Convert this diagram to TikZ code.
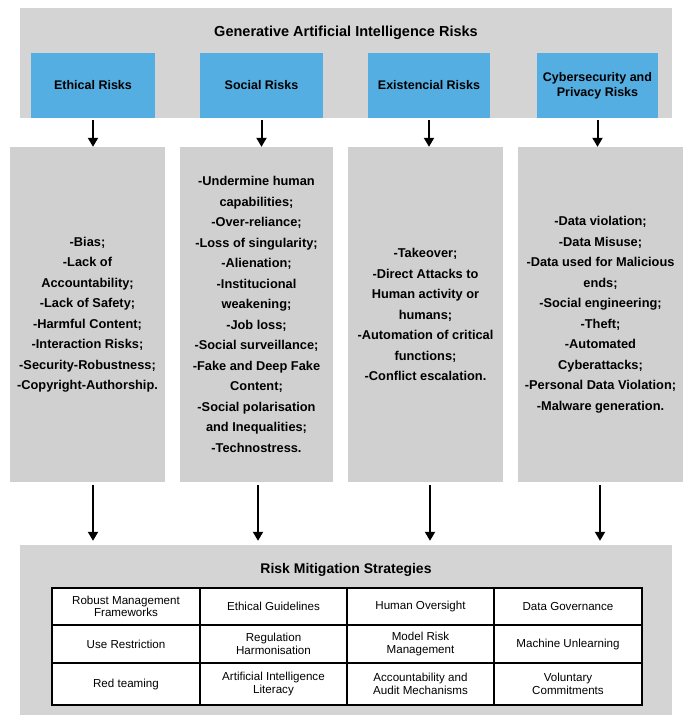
\documentclass[tikz,border=0pt]{standalone}
\usepackage{fontspec}
\setmainfont{Liberation Sans}
\usetikzlibrary{arrows.meta}
\definecolor{bandgray}{RGB}{212,212,212}
\definecolor{boxgray}{RGB}{208,208,208}
\definecolor{riskblue}{RGB}{84,174,226}
\begin{document}
\begin{tikzpicture}[x=1pt,y=-1pt,
  band/.style={fill=bandgray,draw=none},
  cat/.style={fill=riskblue,draw=none,font=\bfseries\fontsize{12.5}{15}\selectfont,align=center,inner sep=0pt},
  col/.style={fill=boxgray,draw=none,font=\bfseries\fontsize{12.8}{20.5}\selectfont,align=center,inner sep=0pt},
  cell/.style={draw=black,line width=1.3pt,fill=white,font=\fontsize{11.6}{12.5}\selectfont,align=center,inner sep=0pt},
  arr/.style={-{Triangle[length=9pt,width=10pt]},line width=2pt}]
\useasboundingbox[fill=white] (0,0) rectangle (685,717);
% top band
\fill[bandgray] (20,8) rectangle (672,118);
\node[font=\bfseries\fontsize{14.5}{17}\selectfont] (title) at (346,33) {Generative Artificial Intelligence Risks};
\node[cat,minimum width=124pt,minimum height=65pt] (c1) at (93,85.5) {Ethical Risks};
\node[cat,minimum width=123pt,minimum height=65pt] (c2) at (261.5,85.5) {Social Risks};
\node[cat,minimum width=122pt,minimum height=65pt] (c3) at (429,85.5) {Existencial Risks};
\node[cat,minimum width=121pt,minimum height=65pt] (c4) at (597.5,85.5) {Cybersecurity and\\Privacy Risks};
% columns
\node[col,minimum width=155pt,minimum height=335pt] (b1) at (87.5,314.5) {-Bias;\\-Lack of\\Accountability;\\-Lack of Safety;\\-Harmful Content;\\-Interaction Risks;\\-Security-Robustness;\\-Copyright-Authorship.};
\node[col,minimum width=153pt,minimum height=335pt] (b2) at (256.5,314.5) {-Undermine human\\capabilities;\\-Over-reliance;\\-Loss of singularity;\\-Alienation;\\-Institucional\\weakening;\\-Job loss;\\-Social surveillance;\\-Fake and Deep Fake\\Content;\\-Social polarisation\\and Inequalities;\\-Technostress.};
\node[col,minimum width=155pt,minimum height=335pt] (b3) at (425.5,314.5) {-Takeover;\\-Direct Attacks to\\Human activity or\\humans;\\-Automation of critical\\functions;\\-Conflict escalation.};
\node[col,minimum width=165pt,minimum height=335pt] (b4) at (600.5,314.5) {-Data violation;\\-Data Misuse;\\-Data used for Malicious\\ends;\\-Social engineering;\\-Theft;\\-Automated\\Cyberattacks;\\-Personal Data Violation;\\-Malware generation.};
% bottom band
\node[band,minimum width=652pt,minimum height=170pt,inner sep=0pt] (bot) at (346,630) {};
\node[font=\bfseries\fontsize{14}{17}\selectfont] (rms) at (346,570) {Risk Mitigation Strategies};
% arrows
\draw[arr] (c1.south) ++(0,2) -- (b1.north -| c1.south);
\draw[arr] (c2.south) ++(0,2) -- (b2.north -| c2.south);
\draw[arr] (c3.south) ++(0,2) -- (b3.north -| c3.south);
\draw[arr] (c4.south) ++(0,2) -- (b4.north -| c4.south);
\coordinate (e1) at (93,485); \coordinate (e2) at (258,485); \coordinate (e3) at (430,485); \coordinate (e4) at (600,485);
\foreach \i in {1,...,4} \draw[arr] (e\i) -- ([yshift=4pt]e\i |- bot.north);
% table
\node[cell,minimum width=148pt,minimum height=37pt] (t11) at (126,606.5) {Robust Management\\Frameworks};
\node[cell,minimum width=147pt,minimum height=37pt] (t12) at (273.5,606.5) {Ethical Guidelines};
\node[cell,minimum width=147pt,minimum height=37pt] (t13) at (420.5,606.5) {Human Oversight};
\node[cell,minimum width=148pt,minimum height=37pt] (t14) at (568,606.5) {Data Governance};
\node[cell,minimum width=148pt,minimum height=38pt] (t21) at (126,644) {Use Restriction};
\node[cell,minimum width=147pt,minimum height=38pt] (t22) at (273.5,644) {Regulation\\Harmonisation};
\node[cell,minimum width=147pt,minimum height=38pt] (t23) at (420.5,644) {Model Risk\\Management};
\node[cell,minimum width=148pt,minimum height=38pt] (t24) at (568,644) {Machine Unlearning};
\node[cell,minimum width=148pt,minimum height=42pt] (t31) at (126,684) {Red teaming};
\node[cell,minimum width=147pt,minimum height=42pt] (t32) at (273.5,684) {Artificial Intelligence\\Literacy};
\node[cell,minimum width=147pt,minimum height=42pt] (t33) at (420.5,684) {Accountability and\\Audit Mechanisms};
\node[cell,minimum width=148pt,minimum height=42pt] (t34) at (568,684) {Voluntary\\Commitments};
\end{tikzpicture}
\end{document}
